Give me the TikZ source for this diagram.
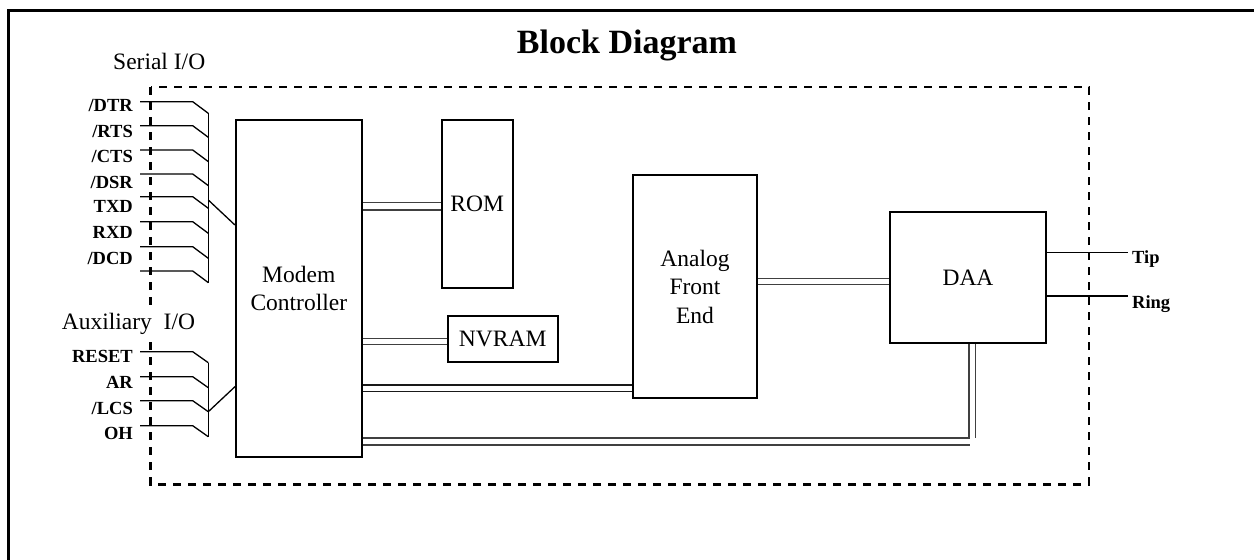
\documentclass[tikz,border=0pt]{standalone}
\usepackage{fontspec}
\setmainfont{Liberation Serif}
\begin{document}
\begin{tikzpicture}[x=1pt,y=-1pt,
  box/.style={draw,line width=2pt,inner sep=0pt,align=center,
              font=\fontsize{23.5}{28.5}\selectfont},
  sig/.style={line width=1.3pt},
  bus/.style={line width=1.1pt,black!75},
  lbl/.style={font=\fontsize{18.5}{20}\selectfont\bfseries,anchor=base east,inner sep=0pt},
  rlbl/.style={font=\fontsize{18.5}{20}\selectfont\bfseries,anchor=base west,inner sep=0pt},
  captext/.style={font=\fontsize{23.5}{28}\selectfont,anchor=base west,inner sep=0pt},
  dashbox/.style={line width=2.5pt,dash pattern=on 8pt off 7pt}]
\useasboundingbox (0,0) rectangle (1254,560);

% outer frame
\draw[line width=2.5pt] (8.3,560) -- (8.3,10.7) -- (1254,10.7);

% title
\node[font=\fontsize{34}{40}\selectfont\bfseries,anchor=base,inner sep=0pt] (title) at (627,53) {Block Diagram};
\node[captext] (serial) at (113,69.8) {Serial I/O};

% dashed boundary
\draw[dashbox] (150.7,87) rectangle (1089,484.3);
\node[captext,fill=white,inner ysep=7pt] (aux) at (61.7,329.5) {Auxiliary\ \ I/O};

% blocks
\node[box,minimum width=125.7pt,minimum height=336.7pt] (mc) at (298.8,288.3) {Modem\\Controller};
\node[box,minimum width=71pt,minimum height=167.7pt] (rom) at (477.2,203.8) {ROM};
\node[box,minimum width=110pt,minimum height=46pt] (nvram) at (502.7,338.7) {NVRAM};
\node[box,minimum width=123.4pt,minimum height=223.3pt] (afe) at (695,286.7) {Analog\\Front\\End};
\node[box,minimum width=156pt,minimum height=131.6pt] (daa) at (968,277.5) {DAA};

% buses
\draw[bus] (mc.east |- 0,202.7) -- (rom.west |- 0,202.7);
\draw[bus] (mc.east |- 0,210) -- (rom.west |- 0,210);
\draw[bus] (mc.east |- 0,338.3) -- (nvram.west |- 0,338.3);
\draw[bus] (mc.east |- 0,344.3) -- (nvram.west |- 0,344.3);
\draw[bus,black!90] (mc.east |- 0,385) -- (afe.west |- 0,385);
\draw[bus,black!90] (mc.east |- 0,391.7) -- (afe.west |- 0,391.7);
\draw[bus] (afe.east |- 0,278.3) -- (daa.west |- 0,278.3);
\draw[bus] (afe.east |- 0,284.3) -- (daa.west |- 0,284.3);
\draw[bus] (mc.east |- 0,438) -- (969,438) -- (daa.south -| 969,0);
\draw[bus] (mc.east |- 0,445) -- (970,445);
\draw[bus] (daa.south -| 975.7,0) -- (975.7,438);

% line interface
\node[rlbl] (tip) at (1132,263) {Tip};
\node[rlbl] (ring) at (1132,308) {Ring};
\draw[sig] (daa.east |- 0,252.7) -- (1128,252.7);
\draw[sig] (daa.east |- 0,296) -- (1128,296);

% serial signals
\node[lbl] (dtr) at (133,111.2) {/DTR};
\node[lbl] (rts) at (133,137.9) {/RTS};
\node[lbl] (cts) at (133,162.9) {/CTS};
\node[lbl] (dsr) at (133,188.9) {/DSR};
\node[lbl] (txd) at (133,212.9) {TXD};
\node[lbl] (rxd) at (133,238.5) {RXD};
\node[lbl] (dcd) at (133,264.5) {/DCD};
\foreach \y in {101.7,125.7,150,174,196.7,221.7,246.7,271}
  \draw[sig] (140,\y) -- (192.7,\y) -- (208.3,\y+11.6);
\draw[sig] (208.3,113.3) -- (208.3,282.6);
\coordinate (sj) at (208.3,200);
\draw[sig] (sj) -- (mc.west |- 0,225);

% auxiliary signals
\node[lbl] (reset) at (133,362.2) {RESET};
\node[lbl] (ar) at (133,388.5) {AR};
\node[lbl] (lcs) at (133,414.5) {/LCS};
\node[lbl] (oh) at (133,439.5) {OH};
\foreach \y in {351.7,376.7,400.7,425.7}
  \draw[sig] (140,\y) -- (192.7,\y) -- (208.3,\y+11);
\draw[sig] (208.3,362.7) -- (208.3,436.7);
\coordinate (aj) at (208.3,411.7);
\draw[sig] (aj) -- (mc.west |- 0,386.7);
\end{tikzpicture}
\end{document}
